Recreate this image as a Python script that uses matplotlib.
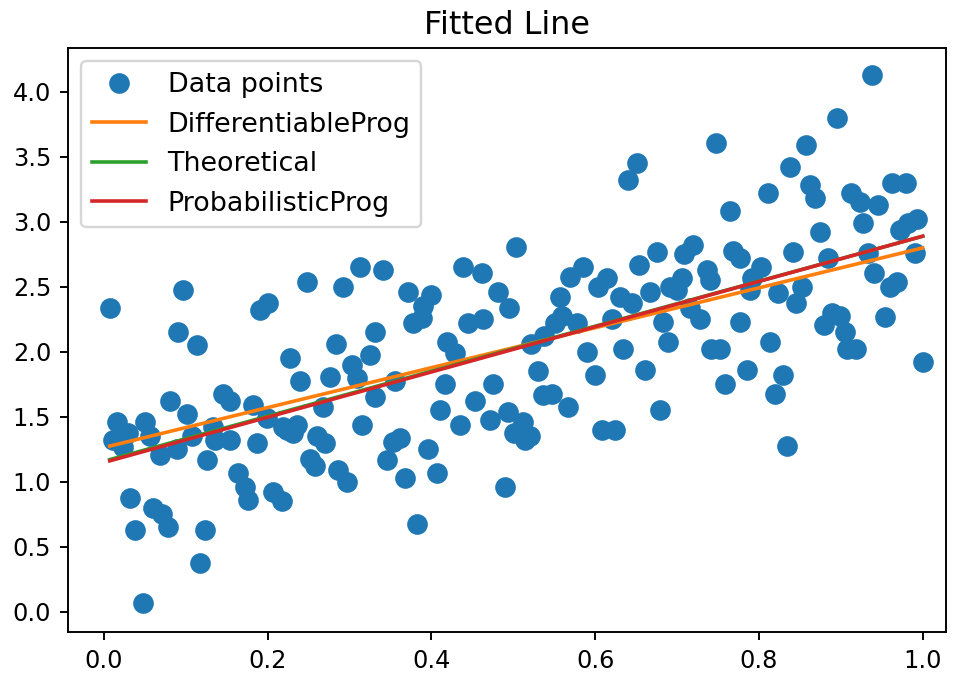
import matplotlib
matplotlib.use('Agg')
import matplotlib.pyplot as plt
import numpy as np

# data points
x_points = [0.007, 0.096, 0.090, 0.114, 0.081, 0.101, 0.145, 0.154, 0.016, 0.050,
            0.011, 0.029, 0.023, 0.056, 0.068, 0.089, 0.107, 0.133, 0.136, 0.154,
            0.126, 0.164, 0.032, 0.060, 0.071, 0.078, 0.038, 0.123, 0.117, 0.048,
            0.248, 0.313, 0.292, 0.200, 0.190, 0.283, 0.331,
            0.227, 0.239, 0.276, 0.303, 0.325, 0.309, 0.182, 0.187, 0.199, 0.219,
            0.236, 0.231, 0.223, 0.267, 0.260, 0.270, 0.252, 0.258, 0.172, 0.176,
            0.206, 0.217, 0.286, 0.297, 0.315, 0.331,
            0.341, 0.438, 0.462, 0.503, 0.371, 0.400, 0.390, 0.481, 0.495, 0.377,
            0.388, 0.444, 0.463, 0.419,
            0.429, 0.355, 0.416, 0.475, 0.410, 0.453, 0.471, 0.493, 0.435, 0.501,
            0.353, 0.361, 0.346, 0.396, 0.368, 0.407, 0.490, 0.382,
            0.651, 0.640, 0.569, 0.585, 0.603, 0.614, 0.654, 0.675, 0.557, 0.630,
            0.645, 0.667, 0.551, 0.560, 0.578, 0.621, 0.538, 0.521, 0.590, 0.634,
            0.661, 0.530, 0.600, 0.536, 0.547, 0.567, 0.512, 0.520, 0.514, 0.608,
            0.624, 0.679,
            0.748, 0.838, 0.811, 0.764, 0.709, 0.719, 0.768, 0.777, 0.841, 0.736,
            0.740, 0.706, 0.691, 0.700, 0.803, 0.792, 0.789, 0.823, 0.845, 0.716,
            0.728, 0.683, 0.777, 0.689, 0.742, 0.753, 0.813,
            0.785, 0.829, 0.758, 0.819, 0.834,
            0.938, 0.895, 0.858, 0.862, 0.868, 0.913, 0.923, 0.945, 0.927, 0.963,
            0.980, 0.972, 0.982, 0.993, 0.874, 0.884, 0.933, 0.990, 0.941, 0.852,
            0.960, 0.969, 0.954, 0.880, 0.889, 0.899, 0.905, 0.908, 0.919, 1.000]
y_points = [2.34, 2.48, 2.15, 2.05, 1.62, 1.52, 1.68, 1.62, 1.46, 1.46,
            1.32, 1.38, 1.27, 1.35, 1.21, 1.25, 1.35, 1.42, 1.32, 1.32,
            1.17, 1.07, 0.88, 0.80, 0.75, 0.65, 0.63, 0.63, 0.38, 0.07,
            2.54, 2.65, 2.50, 2.38, 2.32, 2.06, 2.15,
            1.95, 1.78, 1.81, 1.90, 1.98, 1.80, 1.59, 1.30, 1.49, 1.42,
            1.44, 1.38, 1.40, 1.58, 1.35, 1.30, 1.18, 1.12, 0.96, 0.86,
            0.92, 0.85, 1.09, 1.00, 1.44, 1.65,
            2.63, 2.65, 2.61, 2.81, 2.46, 2.44, 2.35, 2.46, 2.34, 2.22,
            2.26, 2.22, 2.25, 2.08,
            1.99, 1.78, 1.75, 1.75, 1.55, 1.62, 1.48, 1.54, 1.44, 1.38,
            1.31, 1.34, 1.17, 1.25, 1.03, 1.07, 0.96, 0.68,
            3.45, 3.32, 2.58, 2.65, 2.50, 2.57, 2.67, 2.77, 2.42, 2.42,
            2.38, 2.46, 2.22, 2.28, 2.22, 2.25, 2.12, 2.06, 2.00, 2.02,
            1.86, 1.85, 1.82, 1.67, 1.68, 1.58, 1.46, 1.35, 1.32, 1.40,
            1.40, 1.55,
            3.61, 3.42, 3.22, 3.08, 2.75, 2.82, 2.78, 2.72, 2.77, 2.63,
            2.55, 2.57, 2.50, 2.48, 2.65, 2.57, 2.48, 2.45, 2.38, 2.34,
            2.25, 2.23, 2.23, 2.08, 2.02, 2.02, 2.08,
            1.86, 1.82, 1.75, 1.68, 1.28,
            4.13, 3.80, 3.59, 3.28, 3.18, 3.22, 3.15, 3.13, 2.99, 3.30,
            3.30, 2.94, 2.99, 3.02, 2.92, 2.72, 2.76, 2.76, 2.61, 2.50,
            2.50, 2.54, 2.27, 2.21, 2.30, 2.28, 2.15, 2.02, 2.02, 1.92]

# fitted lines: (intercept, slope)
diff_fit = (1.265, 1.535)
theory_fit = (1.16, 1.73)
prob_fit = (1.15, 1.74)

x = np.array(x_points)
y = np.array(y_points)
x_line = np.array([x.min(), x.max()])

fig = plt.figure(figsize=(955 / 173, 676 / 173), dpi=173)
ax = fig.add_axes([0.0712, 0.0651, 0.919, 0.864])

ax.plot(x, y, 'o', markersize=7.6, color='#1f77b4', label='Data points')
ax.plot(x_line, diff_fit[0] + diff_fit[1] * x_line, color='#ff7f0e', label='DifferentiableProg')
ax.plot(x_line, theory_fit[0] + theory_fit[1] * x_line, color='#2ca02c', label='Theoretical')
ax.plot(x_line, prob_fit[0] + prob_fit[1] * x_line, color='#d62728', label='ProbabilisticProg')

ax.set_xlim(-0.044, 1.028)
ax.set_ylim(-0.154, 4.338)
ax.set_xticks([0.0, 0.2, 0.4, 0.6, 0.8, 1.0])
ax.set_yticks([0.0, 0.5, 1.0, 1.5, 2.0, 2.5, 3.0, 3.5, 4.0])
ax.tick_params(labelsize=10)
ax.set_title('Fitted Line', fontsize=13.2)
ax.legend(loc='upper left', fontsize=11.2)

fig.savefig('out.png', dpi=173)
